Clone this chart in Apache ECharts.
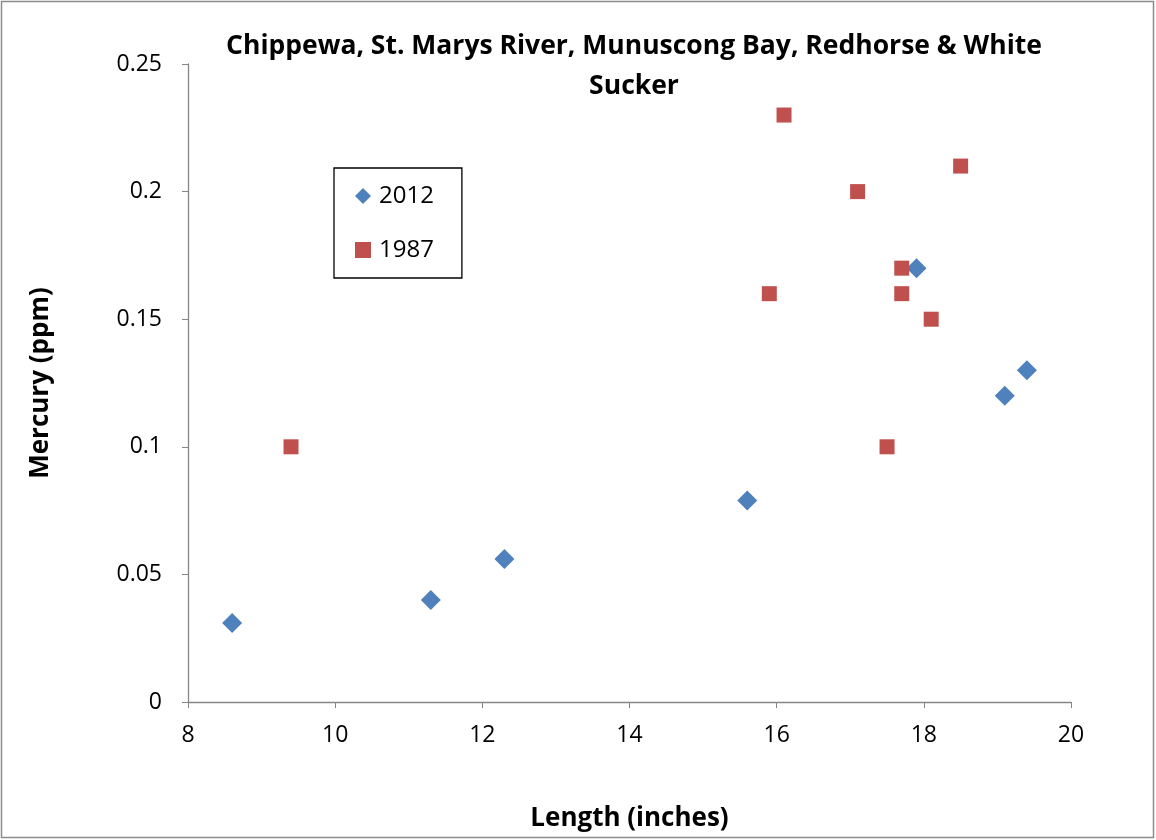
<!DOCTYPE html>
<html><head><meta charset="utf-8">
<script src="https://cdn.jsdelivr.net/npm/echarts@6/dist/echarts.min.js"></script>
<style>html,body{margin:0;padding:0;background:#fff}#c{width:1156px;height:840px}</style>
</head><body><div id="c"></div>
<script>
const titleText = "Chippewa, St. Marys River, Munuscong Bay, Redhorse & White\nSucker";
const xName = "Length (inches)";
const yName = "Mercury (ppm)";
const series2012Name = "2012";
const series1987Name = "1987";
const len2012 = [8.6, 11.3, 12.3, 15.6, 17.9, 19.1, 19.4];
const hg2012 = [0.031, 0.04, 0.056, 0.079, 0.17, 0.12, 0.13];
const len1987 = [9.4, 15.9, 16.1, 17.1, 17.5, 17.7, 17.7, 18.1, 18.5];
const hg1987 = [0.1, 0.16, 0.23, 0.2, 0.1, 0.17, 0.16, 0.15, 0.21];

const font = "'Open Sans', 'Liberation Sans', sans-serif";
const chart = echarts.init(document.getElementById('c'), null, {renderer:'canvas'});
const pairs = (xs, ys) => xs.map((x,i)=>[x, ys[i]]);
chart.setOption({
  animation:false,
  backgroundColor:'#fff',
  graphic:[{type:'rect', shape:{x:1.5,y:1.5,width:1152,height:836}, style:{fill:'none', stroke:'#8c8c8c', lineWidth:1.5}, silent:true}],
  title:{text:titleText, left:629, textAlign:'center', top:21,
    textStyle:{fontFamily:font, fontWeight:'bold', fontSize:26.5, color:'#000', lineHeight:40}},
  grid:{left:188, right:85, top:64, bottom:138},
  legend:{orient:'vertical', left:334, top:168, itemGap:30,
    padding:[16,28,16,21], borderColor:'#000', borderWidth:1.3,
    itemWidth:16, itemHeight:16,
    textStyle:{fontFamily:font, fontSize:24, color:'#000', padding:[0,0,0,3]},
    data:[{name:series2012Name, icon:'diamond'}, {name:series1987Name, icon:'rect'}]},
  xAxis:{type:'value', min:8, max:20, interval:2,
    name:xName, nameLocation:'middle', nameGap:104,
    nameTextStyle:{fontFamily:font, fontWeight:'bold', fontSize:26, color:'#000'},
    axisLine:{lineStyle:{color:'#868686', width:1.3}},
    axisTick:{show:true, length:6, lineStyle:{color:'#868686'}},
    axisLabel:{fontFamily:font, fontSize:23, color:'#000', margin:22},
    splitLine:{show:false}},
  yAxis:{type:'value', min:0, max:0.25, interval:0.05,
    name:yName, nameLocation:'middle', nameGap:134,
    nameTextStyle:{fontFamily:font, fontWeight:'bold', fontSize:26, color:'#000'},
    axisLine:{show:true, lineStyle:{color:'#868686', width:1.3}},
    axisTick:{show:true, length:6, lineStyle:{color:'#868686'}},
    axisLabel:{fontFamily:font, fontSize:23, color:'#000', margin:26},
    splitLine:{show:false}},
  series:[
    {name:series2012Name, type:'scatter', symbol:'diamond', symbolSize:20,
      itemStyle:{color:'#4F81BD', opacity:1}, data:pairs(len2012, hg2012)},
    {name:series1987Name, type:'scatter', symbol:'rect', symbolSize:15,
      itemStyle:{color:'#C0504D', opacity:1}, data:pairs(len1987, hg1987)}
  ]
});
</script></body></html>
